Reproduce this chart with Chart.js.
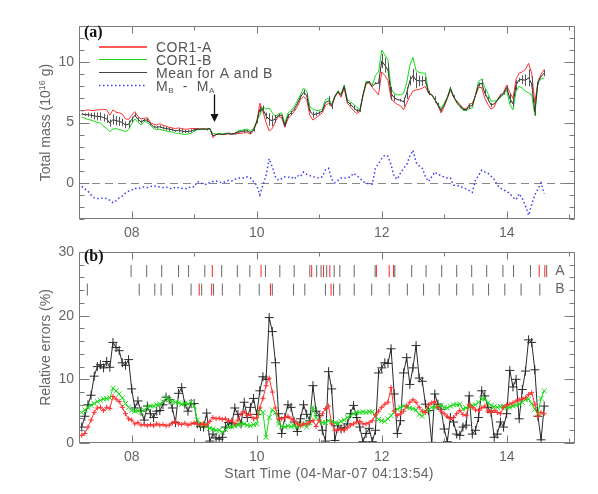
<!DOCTYPE html>
<html lang="en">
<head>
<meta charset="UTF-8">
<title>COR1 total mass and relative errors</title>
<style>
  html, body { margin: 0; padding: 0; background: #fff; }
  .wrap { position: relative; width: 598px; height: 494px; overflow: hidden; }
  canvas { position: absolute; left: 0; }
  #massChart { top: 0; }
  #errChart { top: 245px; }
</style>
</head>
<body>
<div class="wrap">
  <canvas id="massChart" width="598" height="245"></canvas>
  <canvas id="errChart" width="598" height="249"></canvas>
</div>

<script src="https://cdn.jsdelivr.net/npm/chart.js"></script>
<script>
  // time in days (04-Mar-07 04:13:54 start), one sample every 0.05 day
  const times = [
    7.20, 7.25, 7.30, 7.35, 7.40, 7.45, 7.50, 7.55, 7.60, 7.65,
    7.70, 7.75, 7.80, 7.85, 7.90, 7.95, 8.00, 8.05, 8.10, 8.15,
    8.20, 8.25, 8.30, 8.35, 8.40, 8.45, 8.50, 8.55, 8.60, 8.65,
    8.70, 8.75, 8.80, 8.85, 8.90, 8.95, 9.00, 9.05, 9.10, 9.15,
    9.20, 9.25, 9.30, 9.35, 9.40, 9.45, 9.50, 9.55, 9.60, 9.65,
    9.70, 9.75, 9.80, 9.85, 9.90, 9.95, 10.00, 10.05, 10.10, 10.15,
    10.20, 10.25, 10.30, 10.35, 10.40, 10.45, 10.50, 10.55, 10.60, 10.65,
    10.70, 10.75, 10.80, 10.85, 10.90, 10.95, 11.00, 11.05, 11.10, 11.15,
    11.20, 11.25, 11.30, 11.35, 11.40, 11.45, 11.50, 11.55, 11.60, 11.65,
    11.70, 11.75, 11.80, 11.85, 11.90, 11.95, 12.00, 12.05, 12.10, 12.15,
    12.20, 12.25, 12.30, 12.35, 12.40, 12.45, 12.50, 12.55, 12.60, 12.65,
    12.70, 12.75, 12.80, 12.85, 12.90, 12.95, 13.00, 13.05, 13.10, 13.15,
    13.20, 13.25, 13.30, 13.35, 13.40, 13.45, 13.50, 13.55, 13.60, 13.65,
    13.70, 13.75, 13.80, 13.85, 13.90, 13.95, 14.00, 14.05, 14.10, 14.15,
    14.20, 14.25, 14.30, 14.35, 14.40, 14.45, 14.50, 14.55, 14.60
  ];

  // total mass, 10^16 g
  const massA = [
    5.95, 6.0, 6.05, 6.0, 6.0, 6.05, 6.05, 6.1, 6.05, 5.6,
    6.05, 5.85, 5.8, 5.7, 5.3, 5.25, 5.6, 5.9, 5.5, 5.3,
    5.35, 5.4, 5.0, 4.85, 4.8, 4.9, 4.75, 4.7, 4.6, 4.55,
    4.5, 4.55, 4.5, 4.45, 4.45, 4.5, 4.5, 4.5, 4.45, 4.5,
    4.45, 4.5, 3.75, 4.0, 4.05, 4.0, 4.05, 4.05, 4.0, 4.05,
    4.1, 4.1, 4.15, 4.15, 4.05, 4.3, 5.0, 6.6, 5.9, 5.0,
    4.3, 4.5, 5.1, 5.5, 5.4, 4.6, 5.3, 5.6, 5.9, 6.3,
    6.9, 7.15, 6.9, 5.6, 5.2, 5.4, 5.6, 5.8, 6.4, 6.6,
    6.3, 7.1, 7.5, 7.1, 7.85, 6.6, 6.3, 6.0, 5.75, 5.9,
    7.2, 8.2, 8.3, 7.9, 7.6, 7.3, 9.2, 8.9, 8.5, 7.0,
    6.7, 6.5, 6.4, 6.05, 6.6, 7.2, 7.6, 7.7, 7.75, 7.85,
    8.0, 7.4, 7.3, 6.9, 6.4, 5.8, 6.3, 7.0, 7.7, 7.1,
    6.8, 6.5, 6.2, 6.1, 6.5, 6.6, 7.2, 7.9, 7.9, 7.0,
    6.5, 6.1, 6.3, 6.9, 7.3, 7.5, 8.1, 7.5, 7.0, 8.6,
    9.1, 9.2, 9.4, 9.9, 9.1, 6.6, 8.4, 9.0, 9.4
  ];
  const massB = [
    5.45, 5.35, 5.25, 5.2, 5.1, 5.0, 4.95, 4.7, 4.5, 4.25,
    4.45, 4.5, 4.4, 4.35, 4.25, 4.4, 4.9, 5.3, 5.0, 4.8,
    5.1, 5.0, 4.8, 4.5, 4.4, 4.45, 4.35, 4.3, 4.25, 4.2,
    4.1, 4.1, 4.05, 4.0, 4.05, 4.1, 4.3, 4.4, 4.45, 4.45,
    4.4, 4.45, 4.1, 4.05, 4.1, 4.05, 4.1, 4.1, 4.05, 4.1,
    4.3, 4.35, 4.4, 4.45, 4.3, 4.5, 5.1, 5.6, 6.3, 6.1,
    6.2, 5.8, 5.5, 5.7, 5.8, 4.9, 5.8, 6.0, 6.3, 6.8,
    7.3, 7.85, 7.6, 6.3, 6.1, 6.0, 6.0, 6.1, 6.9, 7.0,
    6.5, 7.2, 7.6, 7.4, 8.1, 6.9, 6.7, 6.5, 6.3, 6.0,
    7.3, 8.4, 8.4, 8.1, 8.9, 9.2, 11.0, 10.6, 10.2, 7.8,
    7.4, 7.3, 7.3, 7.4, 8.3, 9.7, 10.4, 9.3, 9.15, 9.1,
    9.1, 7.5, 7.3, 6.9, 6.5, 6.2, 6.6, 7.1, 7.9, 7.2,
    6.6, 6.3, 6.0, 6.0, 6.15, 6.2, 7.3, 8.4, 8.6, 7.9,
    7.4, 6.75, 6.8, 6.8, 7.1, 7.3, 7.7, 6.5, 6.05, 7.6,
    8.0, 7.85, 7.6, 7.45, 7.3, 5.6, 8.3, 8.6, 8.7
  ];
  const massMean = [
    5.7, 5.65, 5.65, 5.6, 5.55, 5.5, 5.5, 5.4, 5.3, 4.95,
    5.25, 5.15, 5.1, 5.0, 4.8, 4.85, 5.25, 5.6, 5.25, 5.05,
    5.2, 5.2, 4.9, 4.65, 4.6, 4.65, 4.55, 4.5, 4.45, 4.4,
    4.3, 4.35, 4.3, 4.25, 4.25, 4.3, 4.4, 4.45, 4.45, 4.45,
    4.45, 4.5, 3.9, 4.0, 4.05, 4.0, 4.05, 4.1, 4.05, 4.1,
    4.2, 4.25, 4.3, 4.3, 4.15, 4.4, 5.05, 6.1, 6.1, 5.55,
    5.25, 5.15, 5.3, 5.6, 5.6, 4.75, 5.55, 5.8, 6.1, 6.55,
    7.1, 7.5, 7.25, 5.95, 5.65, 5.7, 5.8, 5.95, 6.65, 6.8,
    6.4, 7.15, 7.55, 7.25, 8.0, 6.75, 6.5, 6.25, 6.0, 5.95,
    7.25, 8.3, 8.35, 8.0, 8.25, 8.25, 10.1, 9.75, 9.35, 7.4,
    7.05, 6.9, 6.85, 6.7, 7.45, 8.45, 8.9, 8.5, 8.45, 8.45,
    8.5, 7.45, 7.3, 6.9, 6.45, 6.0, 6.45, 7.05, 7.8, 7.15,
    6.7, 6.4, 6.1, 6.05, 6.35, 6.4, 7.25, 8.15, 8.25, 7.45,
    6.95, 6.45, 6.55, 6.85, 7.2, 7.4, 7.9, 7.0, 6.55, 8.1,
    8.55, 8.55, 8.5, 8.7, 8.2, 5.9, 8.35, 8.8, 9.1
  ];
  const massDiff = [
    -0.3, -0.5, -0.7, -1.0, -1.25, -1.3, -1.3, -1.25, -1.3, -1.45,
    -1.65, -1.5, -1.25, -1.1, -0.85, -0.7, -0.6, -0.45, -0.5, -0.4,
    -0.35, -0.4, -0.3, -0.25, -0.3, -0.35, -0.4, -0.35, -0.45, -0.5,
    -0.35, -0.4, -0.45, -0.5, -0.45, -0.3, -0.35, 0.1, 0.0, -0.1,
    -0.15, 0.05, 0.1, 0.15, 0.05, 0.0, 0.1, 0.2, 0.15, 0.3,
    0.35, 0.45, 0.4, 0.5, 0.4, 0.1, -0.2, -1.0, -0.2, 0.6,
    2.0, 1.3, 0.5, 0.2, 0.35, 0.5, 0.45, 0.5, 0.3, 0.6,
    0.5, 0.9, 0.7, 0.6, 0.5, 0.45, 0.4, 0.5, 1.1, 1.2,
    0.3, 0.0, 0.2, 0.4, 0.4, 0.4, 0.5, 0.8, 0.6, 0.4,
    0.1, 0.0, -0.1, -0.1, 1.2, 1.6, 2.0, 2.3, 2.2, 1.5,
    0.5, 0.3, 0.8, 1.2, 1.5, 2.2, 2.7, 1.7, 1.4, 1.2,
    0.5, 0.1, 0.5, 0.9, 0.7, 0.6, 0.45, 0.4, 0.4, -0.2,
    -0.2, -0.3, -0.4, -0.5, -0.65, -0.8, 0.25, 0.6, 1.05, 0.9,
    0.8, 0.55, 0.3, -0.2, -0.45, -0.6, -0.7, -0.9, -1.2, -1.4,
    -0.9, -1.3, -1.9, -2.7, -1.8, -1.0, -0.5, 0.0, -0.9
  ];

  // relative errors, %
  const errMean = [
    2.5, 4.2, 6.0, 7.5, 10.5, 12.0, 12.3, 11.8, 12.8, 11.9,
    15.8, 15.0, 14.5, 12.6, 12.2, 13.1, 8.5, 5.5, 6.6, 5.0,
    3.6, 5.8, 4.6, 4.0, 5.0, 5.1, 6.0, 7.2, 6.8, 5.5,
    3.2, 7.8, 8.7, 6.1, 5.0, 6.2, 6.2, 3.0, 2.6, 2.5,
    4.7, 0.3, 1.4, 0.8, 0.6, 0.9, 2.5, 3.2, 3.0, 5.5,
    4.5, 3.0, 6.4, 4.0, 5.6, 7.0, 4.5, 8.2, 10.4, 10.0,
    19.7, 17.5, 12.6, 4.6, 1.5, 4.0, 6.0, 5.6, 3.3, 1.8,
    3.8, 6.0, 4.5, 3.5, 9.0, 5.0, 4.3, 2.0, 0.3, 11.2,
    8.5, 0.4, 2.7, 2.2, 2.4, 3.0, 4.6, 5.9, 4.0, 2.5,
    0.2, 1.5, 2.3, 0.2, 2.0, 11.0, 11.8, 12.6, 12.5, 14.8,
    7.7, 1.5, 3.5, 11.0, 13.4, 9.2, 11.8, 15.3, 10.2, 9.7,
    6.1, 5.1, 0.1, 7.7, 6.1, 5.3, 2.2, 0.2, 4.0, 3.3,
    1.4, 1.2, 2.5, 2.8, 7.4, 1.4, 2.0, 4.0, 8.2, 7.4,
    5.6, 4.8, 0.9, 1.4, 3.3, 2.5, 4.6, 11.4, 8.8, 10.0,
    3.8, 8.4, 11.3, 16.2, 15.8, 11.5, 4.2, 0.5, 5.8
  ];
  const errA = [
    1.2, 1.5, 2.5, 3.6, 4.8, 5.5, 5.6, 5.1, 5.6, 5.4,
    7.3, 6.9, 6.5, 5.6, 4.6, 3.8, 3.6, 3.0, 3.2, 2.8,
    2.9, 2.7, 2.9, 2.7, 3.0, 2.8, 2.9, 2.7, 2.8, 3.1,
    3.4, 3.0, 2.9, 3.1, 2.8, 3.0, 3.2, 3.0, 2.9, 3.0,
    2.8, 3.4, 4.0, 3.8, 3.9, 3.7, 3.8, 3.4, 3.6, 3.0,
    3.6, 4.6, 4.9, 4.3, 4.5, 3.8, 4.0, 5.5, 7.0, 9.0,
    10.2, 8.0, 5.5, 3.8, 3.8, 4.0, 4.2, 3.8, 3.5, 3.0,
    2.7, 3.0, 3.0, 3.3, 3.5, 2.6, 3.5, 4.6, 5.4, 5.8,
    3.0, 2.0, 2.0, 2.2, 2.0, 2.4, 2.8, 3.0, 3.3, 3.4,
    3.0, 3.0, 3.2, 3.5, 4.4, 5.0, 5.6, 6.1, 6.4, 8.7,
    5.0, 4.3, 4.6, 5.0, 5.8, 6.4, 6.8, 6.4, 5.6, 5.0,
    4.8, 6.0, 6.3, 6.5, 5.6, 5.0, 4.6, 4.2, 3.8, 4.0,
    4.6, 5.1, 4.5, 4.3, 6.0, 5.6, 5.2, 5.1, 5.5, 5.8,
    5.0, 4.8, 5.1, 4.8, 4.6, 5.6, 6.0, 6.1, 6.3, 6.6,
    6.8, 6.9, 7.1, 7.6, 7.9, 6.1, 4.2, 4.8, 4.6
  ];
  const errB = [
    4.8, 5.2, 5.6, 5.9, 6.2, 6.5, 6.7, 6.9, 7.0, 7.1,
    8.6, 8.2, 7.7, 7.1, 6.2, 5.6, 5.1, 5.0, 5.1, 4.8,
    5.2, 5.6, 5.8, 5.8, 6.0, 6.1, 6.5, 7.1, 6.8, 6.5,
    6.4, 6.3, 6.1, 6.2, 6.1, 6.4, 5.8, 3.6, 3.0, 2.9,
    2.6, 2.3, 2.2, 2.0, 2.0, 1.7, 2.1, 2.5, 2.6, 2.7,
    2.8, 3.0, 3.0, 2.8, 2.7, 2.9, 3.0, 5.3, 4.8, 0.9,
    4.0, 5.2, 4.8, 3.0, 2.6, 2.5, 2.7, 2.6, 2.7, 2.5,
    2.8, 3.0, 2.5, 3.2, 5.6, 4.0, 3.4, 3.2, 3.2, 3.5,
    3.4, 3.2, 3.0, 3.4, 3.6, 4.0, 4.3, 4.6, 4.8, 4.8,
    4.9, 4.8, 4.9, 4.9, 4.2, 3.7, 3.5, 3.4, 3.8, 4.3,
    4.9, 5.3, 5.6, 5.8, 5.6, 5.5, 5.4, 5.2, 4.5, 4.2,
    5.0, 5.2, 5.6, 5.7, 5.8, 5.9, 5.6, 5.5, 5.8, 6.0,
    6.0, 6.1, 5.3, 5.5, 5.7, 5.9, 6.0, 6.4, 6.9, 7.0,
    6.3, 5.9, 5.7, 5.6, 5.7, 5.7, 5.6, 5.6, 5.8, 5.9,
    6.1, 6.4, 6.8, 6.9, 6.2, 5.3, 4.6, 7.0, 8.2
  ];

  // observation markers for each spacecraft (red = flagged)
  const eventsA = [7.99, 8.24, 8.48, 8.75, 8.91, 9.17, 9.44, 9.69, 9.89, 10.14, 10.37, 10.60,
    10.85, 10.96, 11.03, 11.12, 11.24, 11.33, 11.56, 11.895, 12.21, 12.48, 12.71, 12.96,
    13.20, 13.44, 13.68, 13.94, 14.11, 14.38, 14.64];
  const eventsARed = [9.29, 10.07, 10.88, 11.07, 11.17, 11.915, 12.12, 12.19, 14.52, 14.61];
  const eventsB = [7.29, 8.12, 8.37, 8.47, 8.65, 8.95, 9.12, 9.31, 9.45, 9.73, 10.04, 10.25,
    10.59, 10.77, 11.10, 11.23, 11.33, 11.56, 11.84, 12.12, 12.41, 12.67, 12.92, 13.20,
    13.46, 13.71, 13.97, 14.23, 14.53];
  const eventsBRed = [9.08, 9.28, 10.22, 11.19];

  const xTicks = [8, 10, 12, 14];
  const massTicks = [0, 5, 10];
  const errTicks = [0, 10, 20, 30];

  // arrow marking the jump in panel (a)
  const arrowAt = 9.31, arrowFrom = 7.33, arrowTo = 5.05;

  const FONT = 'Liberation Sans';
  const RED = '#ff3030', GREEN = '#14dc14', DARK = '#2a2a2a', BLUE = '#3b3bff';
  const FRAME = '#7a7a7a', TEXT = '#666';
  const rowA = 27.0, rowB = 24.1;

  const pts = (xs, ys) => xs.map((t, i) => ({ x: t, y: ys[i] }));
  const row = (xs, v) => xs.map(t => ({ x: t, y: v }));

  function baseOptions(yMin, yMax, yTicks, xHeight, topPad) {
    return {
      responsive: false,
      animation: false,
      events: [],
      devicePixelRatio: 1,
      layout: { padding: { top: topPad, right: 23, left: 0, bottom: 0 } },
      plugins: { legend: { display: false }, tooltip: { enabled: false } },
      scales: {
        x: {
          type: 'linear', position: 'bottom', min: 7.157, max: 15.093,
          grid: { display: false, drawTicks: false }, border: { display: false },
          afterBuildTicks: s => { s.ticks = xTicks.map(v => ({ value: v })); },
          afterFit: s => { s.height = xHeight; s.paddingLeft = 0; s.paddingRight = 0; },
          ticks: {
            autoSkip: false, maxRotation: 0, padding: 6, color: TEXT,
            font: { family: FONT, size: 14 },
            callback: v => (v < 10 ? '0' : '') + v
          }
        },
        y: {
          type: 'linear', min: yMin, max: yMax,
          grid: { display: false, drawTicks: false }, border: { display: false },
          afterBuildTicks: s => { s.ticks = yTicks.map(v => ({ value: v })); },
          afterFit: s => { s.width = 79; s.paddingTop = 0; s.paddingBottom = 0; },
          ticks: { autoSkip: false, padding: 5, color: TEXT, font: { family: FONT, size: 14 } }
        }
      }
    };
  }

  // IDL-like box with inward ticks on all four sides
  const idlFrame = {
    id: 'idlFrame',
    afterDatasetsDraw(chart, args, o) {
      const { ctx, chartArea: a, scales: { x, y } } = chart;
      const L = Math.round(a.left) + 0.5, R = Math.round(a.right) - 0.5;
      const T = Math.round(a.top) + 0.5, B = Math.round(a.bottom) - 0.5;
      ctx.save();
      ctx.strokeStyle = FRAME;
      ctx.lineWidth = 1;
      ctx.strokeRect(L, T, R - L, B - T);
      ctx.beginPath();
      for (let d = 7; d <= 15; d++) {
        const px = Math.round(x.getPixelForValue(d)) + 0.5;
        if (px < a.left || px > a.right) continue;
        const len = d % 2 ? 4 : 7;
        ctx.moveTo(px, B); ctx.lineTo(px, B - len);
        ctx.moveTo(px, T); ctx.lineTo(px, T + len);
      }
      for (let v = y.min; v <= y.max; v += o.minor) {
        const py = Math.round(y.getPixelForValue(v)) + 0.5;
        const len = v % o.major === 0 ? 10 : 5;
        ctx.moveTo(L, py); ctx.lineTo(L + len, py);
        ctx.moveTo(R, py); ctx.lineTo(R - len, py);
      }
      ctx.stroke();
      ctx.restore();
    }
  };

  function rotatedTitle(ctx, cx, cy, parts) {
    ctx.save();
    ctx.translate(cx, cy);
    ctx.rotate(-Math.PI / 2);
    ctx.fillStyle = TEXT;
    ctx.textBaseline = 'alphabetic';
    let w = 0;
    parts.forEach(p => { ctx.font = `${p.size}px ${FONT}`; w += ctx.measureText(p.t).width; });
    let x = -w / 2;
    parts.forEach(p => {
      ctx.font = `${p.size}px ${FONT}`;
      ctx.fillText(p.t, x, 5 - (p.rise || 0));
      x += ctx.measureText(p.t).width;
    });
    ctx.restore();
  }

  const massDecor = {
    id: 'massDecor',
    beforeDatasetsDraw(chart) {
      const { ctx, chartArea: a, scales: { y } } = chart;
      const py = Math.round(y.getPixelForValue(0)) + 0.5;
      ctx.save();
      ctx.strokeStyle = '#888';
      ctx.lineWidth = 1;
      ctx.setLineDash([8, 5]);
      ctx.beginPath();
      ctx.moveTo(a.left, py); ctx.lineTo(a.right, py);
      ctx.stroke();
      ctx.restore();
    },
    afterDatasetsDraw(chart) {
      const { ctx, chartArea: a, scales: { x, y } } = chart;
      ctx.save();
      ctx.beginPath();
      ctx.rect(a.left, a.top, a.width, a.height);
      ctx.clip();
      // error bars on the mean (total length = relative error of the mean)
      ctx.strokeStyle = '#555';
      ctx.lineWidth = 1;
      ctx.beginPath();
      times.forEach((t, i) => {
        const h = massMean[i] * errMean[i] / 200;
        const px = Math.round(x.getPixelForValue(t)) + 0.5;
        ctx.moveTo(px, y.getPixelForValue(massMean[i] - h));
        ctx.lineTo(px, y.getPixelForValue(massMean[i] + h));
      });
      ctx.stroke();
      ctx.restore();

      // arrow
      const ax = Math.round(x.getPixelForValue(arrowAt)) + 0.5;
      const y0 = y.getPixelForValue(arrowFrom), y1 = y.getPixelForValue(arrowTo);
      ctx.save();
      ctx.strokeStyle = '#111'; ctx.fillStyle = '#111'; ctx.lineWidth = 1.3;
      ctx.beginPath(); ctx.moveTo(ax, y0); ctx.lineTo(ax, y1 - 7); ctx.stroke();
      ctx.beginPath(); ctx.moveTo(ax - 4, y1 - 8); ctx.lineTo(ax + 4, y1 - 8); ctx.lineTo(ax, y1); ctx.closePath(); ctx.fill();
      ctx.restore();

      // legend
      ctx.save();
      const rows = [
        { y: 47, c: '#ff5a5a', w: 2.2, dash: [], t: 'COR1-A' },
        { y: 59.5, c: GREEN, w: 1.2, dash: [], t: 'COR1-B' },
        { y: 72.5, c: '#444', w: 1, dash: [], t: 'Mean for A and B' },
        { y: 85.5, c: BLUE, w: 1.5, dash: [1.5, 2.5], t: null }
      ];
      ctx.letterSpacing = '0.5px';
      rows.forEach(r => {
        ctx.strokeStyle = r.c; ctx.lineWidth = r.w; ctx.setLineDash(r.dash);
        ctx.beginPath(); ctx.moveTo(99, r.y); ctx.lineTo(147, r.y); ctx.stroke();
        ctx.fillStyle = '#555';
        ctx.textBaseline = 'alphabetic';
        if (r.t) {
          ctx.font = `14px ${FONT}`;
          ctx.fillText(r.t, 156, r.y + 5);
        } else {
          let tx = 156;
          const seq = [['M', 14, 0], ['B', 8, -2], ['  -  M', 14, 0], ['A', 8, -2]];
          seq.forEach(([s, sz, rise]) => {
            ctx.font = `${sz}px ${FONT}`;
            ctx.fillText(s, tx, r.y + 5 - rise);
            tx += ctx.measureText(s).width;
          });
        }
      });
      ctx.restore();
    },
    afterDraw(chart) {
      const { ctx } = chart;
      ctx.save();
      ctx.fillStyle = '#111';
      ctx.font = 'bold 16px "Liberation Serif"';
      ctx.textBaseline = 'alphabetic';
      ctx.fillText('(a)', 84, 37);
      ctx.restore();
      rotatedTitle(ctx, 45, 122.5, [
        { t: 'Total mass (10', size: 14 },
        { t: '16', size: 9, rise: 5 },
        { t: ' g)', size: 14 }
      ]);
    }
  };

  const errDecor = {
    id: 'errDecor',
    afterDraw(chart) {
      const { ctx, chartArea: a, scales: { x, y } } = chart;
      ctx.save();
      ctx.fillStyle = '#111';
      ctx.font = 'bold 16px "Liberation Serif"';
      ctx.textBaseline = 'alphabetic';
      ctx.fillText('(b)', 84, 16);
      ctx.fillStyle = TEXT;
      ctx.font = `14px ${FONT}`;
      ctx.textAlign = 'center';
      ctx.textBaseline = 'middle';
      ctx.fillText('A', x.getPixelForValue(14.85), y.getPixelForValue(rowA));
      ctx.fillText('B', x.getPixelForValue(14.85), y.getPixelForValue(rowB));
      ctx.letterSpacing = '0.3px';
      ctx.fillText('Start Time (04-Mar-07 04:13:54)', (a.left + a.right) / 2 + 2, 229);
      ctx.restore();
      rotatedTitle(ctx, 45, (a.top + a.bottom) / 2, [{ t: 'Relative errors (%)', size: 14 }]);
    }
  };

  // panel (a)
  const massOpts = baseOptions(-3, 13, massTicks, 26, 26);
  massOpts.plugins.idlFrame = { minor: 1, major: 5 };
  new Chart(document.getElementById('massChart'), {
    type: 'scatter',
    data: {
      datasets: [
        { label: 'Mean for A and B', data: pts(times, massMean), showLine: true, borderColor: DARK, borderWidth: 1, pointRadius: 0, order: 0 },
        { label: 'COR1-A', data: pts(times, massA), showLine: true, borderColor: RED, borderWidth: 1, pointRadius: 0, order: 2 },
        { label: 'COR1-B', data: pts(times, massB), showLine: true, borderColor: GREEN, borderWidth: 1, pointRadius: 0, order: 1 },
        { label: 'MB - MA', data: pts(times, massDiff), showLine: true, borderColor: BLUE, borderWidth: 1.5, borderDash: [1.5, 2.5], pointRadius: 0, order: 3 }
      ]
    },
    options: massOpts,
    plugins: [massDecor, idlFrame]
  });

  // panel (b)
  const errOpts = baseOptions(0, 30, errTicks, 51, 4);
  errOpts.plugins.idlFrame = { minor: 2, major: 10 };
  const tick = (data, color) => ({
    data, showLine: false, pointStyle: 'line', pointRotation: 90, pointRadius: 6,
    pointBorderColor: color, pointBorderWidth: 1, pointBackgroundColor: color
  });
  new Chart(document.getElementById('errChart'), {
    type: 'scatter',
    data: {
      datasets: [
        { label: 'A', ...tick(row(eventsA, rowA), '#666') },
        { label: 'A flagged', ...tick(row(eventsARed, rowA), '#ff2020') },
        { label: 'B', ...tick(row(eventsB, rowB), '#666') },
        { label: 'B flagged', ...tick(row(eventsBRed, rowB), '#ff2020') },
        { label: 'COR1-A', data: pts(times, errA), showLine: true, borderColor: RED, borderWidth: 1,
          pointStyle: 'cross', pointRadius: 2.5, pointBorderColor: RED, pointBorderWidth: 1, order: 0 },
        { label: 'COR1-B', data: pts(times, errB), showLine: true, borderColor: GREEN, borderWidth: 1,
          pointStyle: 'crossRot', pointRadius: 3.5, pointBorderColor: GREEN, pointBorderWidth: 1, order: 1 },
        { label: 'Mean', data: pts(times, errMean), showLine: true, borderColor: DARK, borderWidth: 1,
          pointStyle: 'cross', pointRadius: 4.5, pointBorderColor: DARK, pointBorderWidth: 1, order: 2 }
      ]
    },
    options: errOpts,
    plugins: [idlFrame, errDecor]
  });
</script>
</body>
</html>
